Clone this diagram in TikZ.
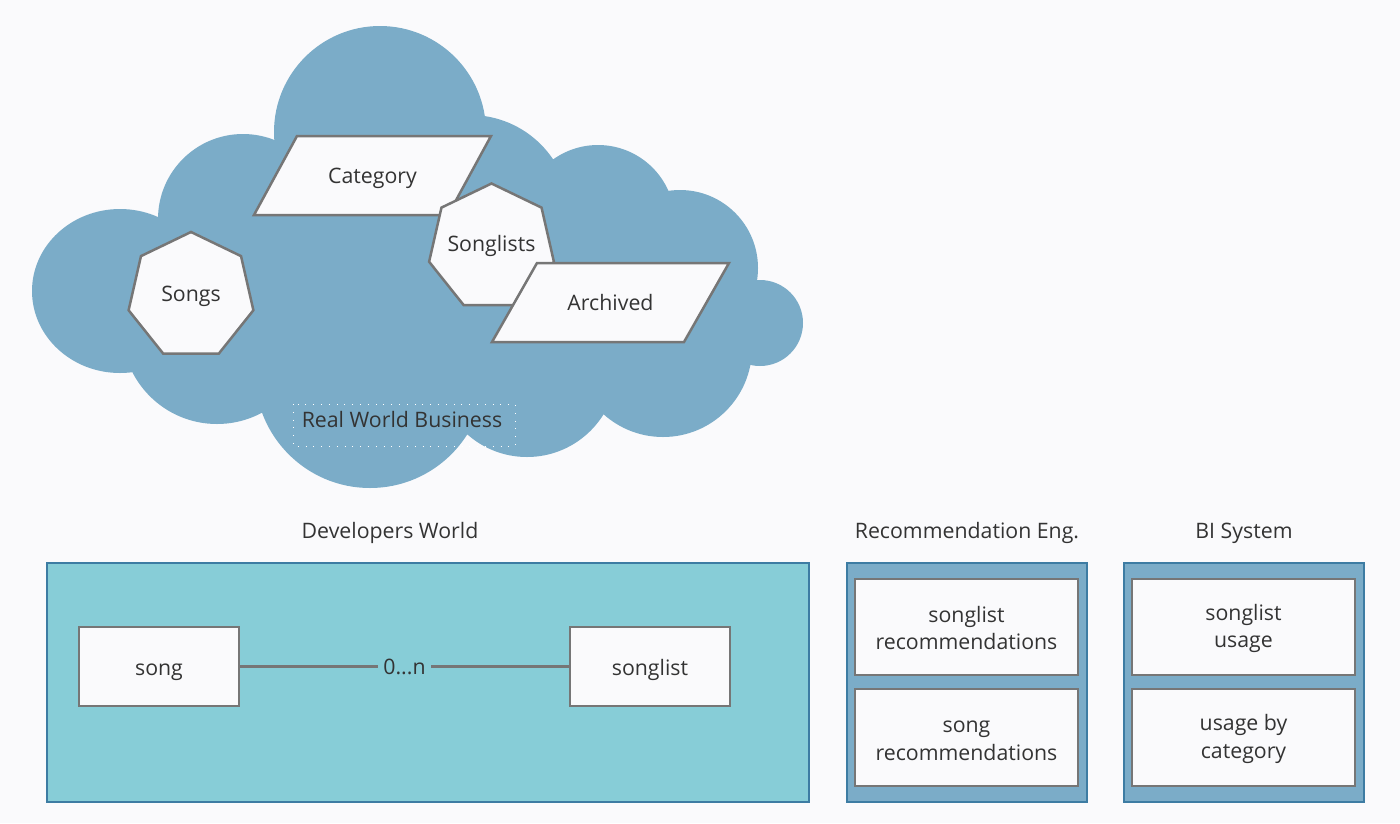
\documentclass[tikz,border=0pt]{standalone}
\usepackage{fontspec}
\setmainfont{Open Sans}
\usetikzlibrary{shapes.geometric}
\definecolor{bgc}{HTML}{FAFAFC}
\definecolor{cloudc}{HTML}{7BACC8}
\definecolor{tealc}{HTML}{87CDD7}
\definecolor{darkblue}{HTML}{3D7CA3}
\definecolor{boxfill}{HTML}{FAFAFC}
\definecolor{grayline}{HTML}{767676}
\definecolor{txt}{HTML}{333333}
\newcommand\topstr{\rule{0pt}{19.5pt}}
\newcommand\botstr{\rule[-1.5pt]{0pt}{1.5pt}}
\tikzset{
  lbl/.style={text=txt, font=\fontsize{21.3}{27.5}\selectfont, inner sep=0pt},
  oneline/.style={text height=16pt, text depth=5pt},
  boxline/.style={text height=18pt, text depth=1pt},
  whitebox/.style={lbl, draw=grayline, line width=2.5pt, fill=boxfill, align=center, rectangle},
  shapeline/.style={draw=grayline, line width=2.5pt, fill=boxfill, line join=miter},
  hepta/.style={regular polygon, regular polygon sides=7, minimum size=128pt, inner sep=0pt, draw=grayline, line width=2.5pt, fill=boxfill},
  container/.style={draw=darkblue, line width=2pt, fill=cloudc}
}
\begin{document}
\begin{tikzpicture}[x=1pt,y=-1pt]
\fill[bgc] (0,0) rectangle (1400,823);
\useasboundingbox (0,0) rectangle (1400,823);
% cloud
\fill[cloudc]
  (380,132) circle[radius=106pt]
  (243,219) circle[radius=85pt]
  (120,291) ellipse[x radius=88pt, y radius=82pt]
  (217,329) circle[radius=95pt]
  (370,373) circle[radius=115pt]
  (527,367) circle[radius=90pt]
  (663,348) circle[radius=89pt]
  (760,323) circle[radius=43pt]
  (680,268) circle[radius=78pt]
  (598,222) circle[radius=77pt]
  (470,215) circle[radius=100pt]
  (420,300) ellipse[x radius=300pt, y radius=120pt];
% Real World Business label
\draw[white, line width=0.6pt, dash pattern=on 0.8pt off 7pt] (293,404) rectangle (515,446);
\node[lbl] (rwb) at (402,420) {Real World Business};
% Category
\draw[shapeline] (254,215) -- (297,136) -- (491,136) -- (448,215) -- cycle;
\node[lbl, oneline] (cat) at (372.5,177.8) {Category};
% Songs
\node[hepta] (songs) at (191,296) {};
\node[lbl] (songstxt) at (songs) {Songs};
% Songlists
\node[hepta] (songlists) at (491.5,247.5) {};
\node[lbl] (songliststxt) at (491.5,246) {Songlists};
% Archived
\draw[shapeline] (492,342) -- (537,263) -- (729,263) -- (684,342) -- cycle;
\node[lbl] (arch) at (610.5,302.5) {Archived};
% titles
\node[lbl, oneline] (devt) at (390,532.8) {Developers World};
\node[lbl, oneline] (rect) at (967,532.8) {Recommendation Eng.};
\node[lbl, oneline] (bit) at (1244,532.8) {BI System};
% Developers World
\draw[draw=darkblue, line width=1.5pt, fill=tealc] (47,563) rectangle (809,802);
\node[whitebox, boxline, minimum width=160pt, minimum height=79pt] (song) at (159,666.5) {song};
\node[whitebox, boxline, minimum width=160pt, minimum height=79pt] (songlist) at (650,666.5) {songlist};
\draw[grayline, line width=2.5pt] (song) -- node[lbl, fill=tealc, inner xsep=5pt, inner ysep=0pt] (card) {0...n} (songlist);
% Recommendation Eng.
\draw[container] (847,563) rectangle (1087,802);
\node[whitebox, minimum width=223pt, minimum height=96pt] (slrec) at (966.5,627) {\topstr songlist\\recommendations\botstr};
\node[whitebox, minimum width=223pt, minimum height=97pt] (srec) at (966.5,737.5) {\topstr song\\recommendations\botstr};
% BI System
\draw[container] (1124,563) rectangle (1364,802);
\node[whitebox, minimum width=223pt, minimum height=96pt] (slu) at (1243.5,627) {\topstr songlist\\usage\botstr};
\node[whitebox, minimum width=223pt, minimum height=97pt] (ubc) at (1243.5,737.5) {\topstr usage by\\category\botstr};
\end{tikzpicture}
\end{document}
